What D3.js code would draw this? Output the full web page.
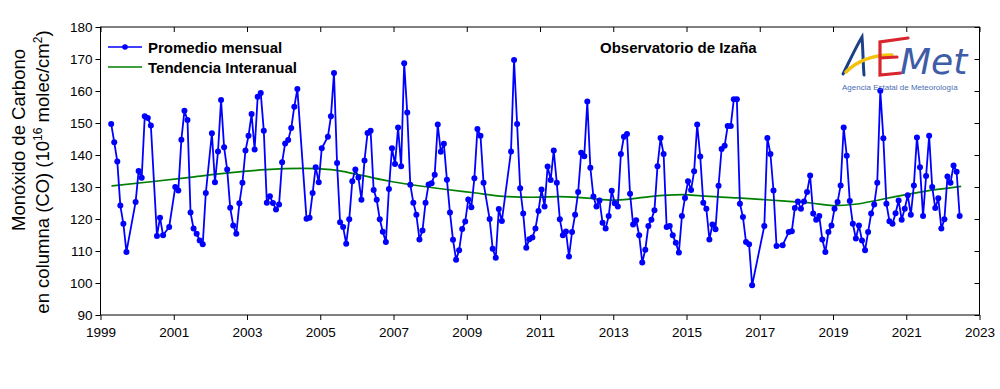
<!DOCTYPE html>
<html>
<head>
<meta charset="utf-8">
<script src="https://cdn.jsdelivr.net/npm/d3@7"></script>
<style>
  body { margin: 0; background: #fff; }
  svg { display: block; font-family: "Liberation Sans", Arial, sans-serif; }
</style>
</head>
<body>
<div id="chart"></div>
<script>
// monthly CO column means, one row per year (Jan..Dec), null = no data
const years = d3.range(1999, 2023);
const monthly = [
  [null, null, null, 149.7, 144.0, 138.0, 124.2, 118.5, 109.7, null, null, 125.3],
  [135.0, 132.9, 152.1, 151.6, 149.2, null, 114.7, 120.4, 114.9, null, 117.5, null],
  [130.0, 128.9, 144.8, 153.8, 150.9, 122.0, 117.0, 115.4, 113.3, 112.1, 128.1, null],
  [146.8, 131.5, 141.1, 157.2, 142.4, 135.5, 123.5, 118.0, 115.4, 124.9, 131.3, 141.4],
  [146.0, 152.8, 141.7, 158.2, 159.4, 147.6, 125.1, 127.1, 125.0, 123.0, 124.5, 137.7],
  [143.6, 144.7, 148.4, 155.1, 160.6, null, null, 120.1, 120.4, 128.1, 136.2, 131.5],
  [142.1, null, 145.7, 152.1, 165.6, 137.5, 119.0, 117.5, 112.3, 119.9, 131.8, 135.5],
  [133.0, 126.0, 138.3, 146.9, 147.6, 129.1, 126.0, 119.9, 116.0, 112.8, 129.4, 142.1],
  [137.2, 148.6, 136.5, 168.7, 153.3, 130.7, 125.1, 121.3, 113.6, 116.4, 125.1, 130.8],
  [131.2, 133.8, 149.5, 141.0, 143.5, 132.3, 122.0, 113.5, 107.3, 110.2, 116.9, 119.2],
  [126.1, 123.7, 132.7, 148.1, 146.0, 131.3, null, 120.0, 110.7, 107.9, 123.1, 119.4],
  [null, null, 141.1, 169.7, 149.7, 129.6, 121.7, 111.0, 113.7, 114.2, 117.0, 122.5],
  [129.2, 123.9, 136.4, 132.2, 141.4, 131.3, 119.9, 114.9, 116.1, 108.3, 115.9, 121.3],
  [128.4, 140.7, 139.6, 156.7, 136.0, 127.0, 123.9, 125.8, 118.8, 117.0, 120.9, 128.8],
  [124.9, 123.9, 140.3, 145.7, 146.6, 127.9, 118.3, 119.6, 114.9, 106.4, 110.4, 117.8],
  [119.8, 122.7, 136.5, 145.3, 140.3, 117.5, 117.8, 114.9, 112.6, 109.5, 120.9, 126.6],
  [131.8, 129.1, 134.9, 149.5, 139.5, 125.1, 123.2, 113.6, 118.3, 116.8, 130.4, 141.9],
  [142.9, 149.1, 149.1, 157.4, 157.4, 124.8, 120.6, 112.8, 112.1, 99.3, null, null],
  [null, 117.8, 145.3, 140.3, 128.9, 111.6, null, 111.8, null, 115.9, 116.2, 123.4],
  [125.5, 123.2, 125.5, 128.4, 133.6, 121.7, 119.8, 120.9, 113.6, 109.7, 115.9, 118.0],
  [123.2, 125.3, 130.5, 148.6, 139.8, 125.6, 118.5, 113.9, 118.0, 113.3, 110.2, 115.9],
  [121.7, 124.5, 131.3, 160.1, 145.2, 124.8, 119.3, 118.5, 121.8, 125.8, 119.8, 123.2],
  [127.4, 121.3, 130.5, 145.5, 136.2, 120.9, 133.4, 146.0, 130.0, 123.4, 126.5, 117.0],
  [119.9, 133.3, 131.3, 136.7, 134.8, 120.9, null, null, null, null, null, null]
];

// interannual trend, read at these dates
const trendYears = [1999.3, 2000.5, 2001.5, 2002.5, 2003.5, 2004.5, 2005.3, 2006.1, 2006.9, 2007.5, 2008.4,
  2009.2, 2010.0, 2010.8, 2011.5, 2012.3, 2013.0, 2013.5, 2014.0, 2014.9, 2015.4, 2016.4, 2017.7,
  2018.4, 2019.0, 2019.6, 2020.0, 2020.7, 2021.7, 2022.5];
const trendValues = [130.3, 131.8, 133.1, 134.4, 135.4, 135.8, 135.4, 133.7, 131.8, 130.7, 129.3,
  128.2, 127.1, 126.8, 127.0, 126.5, 125.9, 126.3, 127.0, 127.6, 127.2, 126.6, 125.6,
  125.0, 124.2, 124.6, 125.4, 127.0, 129.0, 130.2];

const xTicks = d3.range(1999, 2024, 2);
const yTicks = d3.range(90, 181, 10);

const width = 1000;
const height = 389;
const plot = { left: 100.5, right: 979.5, top: 27, bottom: 315 };

const svg = d3.select("#chart")
  .append("svg")
  .attr("width", width)
  .attr("height", height);

const x = d3.scaleLinear().domain([1999, 2023]).range([plot.left, plot.right]);
const y = d3.scaleLinear().domain([90, 180]).range([plot.bottom, plot.top]);

const points = [];
years.forEach((yr, i) => {
  monthly[i].forEach((v, m) => {
    if (v !== null) points.push({ t: yr + (m + 0.5) / 12, v: v });
  });
});
const trend = trendYears.map((t, i) => ({ t: t, v: trendValues[i] }));

// axes
const axisBottom = d3.axisBottom(x).tickValues(xTicks).tickFormat(d3.format("d")).tickSize(5).tickPadding(7);
const axisTop = d3.axisTop(x).tickValues(xTicks).tickFormat("").tickSize(-5);
const axisLeft = d3.axisLeft(y).tickValues(yTicks).tickSize(5).tickPadding(3);
const axisRight = d3.axisRight(y).tickValues(yTicks).tickFormat("").tickSize(-5);

function styleAxis(g) {
  g.select(".domain").remove();
  g.selectAll("line").attr("stroke", "#000").attr("stroke-width", 1);
  g.selectAll("text").attr("fill", "#000").style("font-size", "13.5px")
    .style("font-family", "'Liberation Sans', Arial, sans-serif");
}

svg.append("g").attr("transform", `translate(0,${plot.bottom})`).call(axisBottom).call(styleAxis);
svg.append("g").attr("transform", `translate(0,${plot.top})`).call(axisTop).call(styleAxis);
svg.append("g").attr("transform", `translate(${plot.left},0)`).call(axisLeft).call(styleAxis);
svg.append("g").attr("transform", `translate(${plot.right},0)`).call(axisRight).call(styleAxis);

svg.append("rect")
  .attr("x", plot.left)
  .attr("y", plot.top)
  .attr("width", plot.right - plot.left)
  .attr("height", plot.bottom - plot.top)
  .attr("fill", "none")
  .attr("stroke", "#000")
  .attr("stroke-width", 1);

// trend
const trendLine = d3.line().x((d) => x(d.t)).y((d) => y(d.v)).curve(d3.curveMonotoneX);
svg.append("path")
  .datum(trend)
  .attr("d", trendLine)
  .attr("fill", "none")
  .attr("stroke", "#008000")
  .attr("stroke-width", 1.7);

// monthly means
const line = d3.line().x((d) => x(d.t)).y((d) => y(d.v));
svg.append("path")
  .datum(points)
  .attr("d", line)
  .attr("fill", "none")
  .attr("stroke", "#0000ff")
  .attr("stroke-width", 1.8);

svg.append("g")
  .selectAll("circle")
  .data(points)
  .join("circle")
  .attr("cx", (d) => x(d.t))
  .attr("cy", (d) => y(d.v))
  .attr("r", 3)
  .attr("fill", "#0000ff");

// y axis title (two lines)
svg.append("text")
  .attr("transform", "translate(25,140) rotate(-90)")
  .attr("text-anchor", "middle")
  .style("font-size", "18.5px")
  .attr("fill", "#000")
  .text("Monóxido de Carbono");
const yTitle = svg.append("text")
  .attr("transform", "translate(49,172) rotate(-90)")
  .attr("text-anchor", "middle")
  .style("font-size", "18.5px")
  .attr("fill", "#000");
yTitle.append("tspan").text("en columna (CO) (10");
yTitle.append("tspan").attr("dy", -7).style("font-size", "12px").text("16");
yTitle.append("tspan").attr("dy", 7).text(" molec/cm");
yTitle.append("tspan").attr("dy", -7).style("font-size", "12px").text("2");
yTitle.append("tspan").attr("dy", 7).text(")");

// legend
const legend = svg.append("g").attr("transform", "translate(108,47)");
legend.append("line").attr("x1", 0).attr("x2", 34).attr("y1", 0).attr("y2", 0)
  .attr("stroke", "#0000ff").attr("stroke-width", 1.6);
legend.append("circle").attr("cx", 17).attr("cy", 0).attr("r", 2.8).attr("fill", "#0000ff");
legend.append("text").attr("x", 40).attr("y", 5.5).text("Promedio mensual")
  .style("font-size", "15px").style("font-weight", "bold");
legend.append("line").attr("x1", 0).attr("x2", 34).attr("y1", 20).attr("y2", 20)
  .attr("stroke", "#008000").attr("stroke-width", 1.6);
legend.append("text").attr("x", 40).attr("y", 25.5).text("Tendencia Interanual")
  .style("font-size", "15px").style("font-weight", "bold");

svg.append("text")
  .attr("x", 600).attr("y", 52.5)
  .text("Observatorio de Izaña")
  .style("font-size", "15px").style("font-weight", "bold");

// AEMET logo (drawn)
const logo = svg.append("g");
logo.append("path").attr("d", "M843,74 C850,60 857,45 862,37 C863,50 863,62 864,75")
  .attr("fill", "none").attr("stroke", "#1d3f87").attr("stroke-width", 3).attr("stroke-linecap", "round");
logo.append("path").attr("d", "M846,72 C858,60 875,55 892,55")
  .attr("fill", "none").attr("stroke", "#f4c20d").attr("stroke-width", 3.5).attr("stroke-linecap", "round");
logo.append("path").attr("d", "M908,38 L880,42 L880,75 L901,73 M880,58 L897,57")
  .attr("fill", "none").attr("stroke", "#d8262e").attr("stroke-width", 3.2).attr("stroke-linecap", "round");
logo.append("text").attr("x", 900).attr("y", 74).text("Met")
  .style("font-size", "36px").style("font-style", "italic")
  .style("font-family", "'DejaVu Sans', sans-serif").attr("fill", "#3f5ca6");
logo.append("text").attr("x", 842).attr("y", 90).text("Agencia Estatal de Meteorología")
  .style("font-size", "8px").attr("fill", "#4b6db3");
</script>
</body>
</html>
